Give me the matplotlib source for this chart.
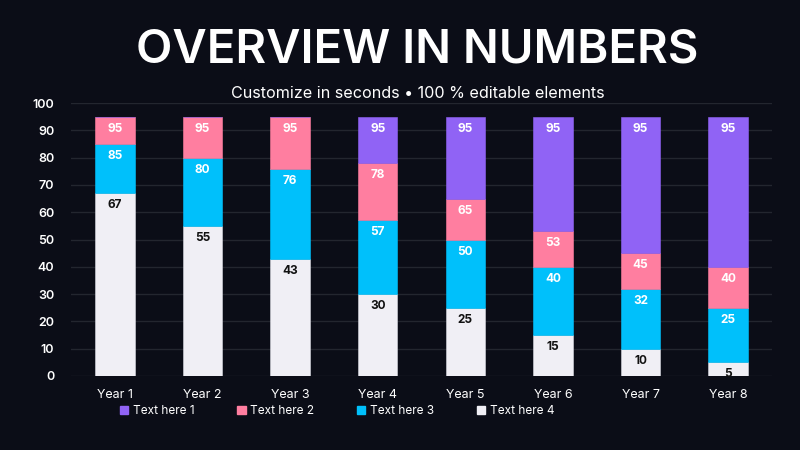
import numpy as np
import matplotlib
matplotlib.use("Agg")
import matplotlib.pyplot as plt
from matplotlib.patches import Patch

years = ["Year 1", "Year 2", "Year 3", "Year 4", "Year 5", "Year 6", "Year 7", "Year 8"]
# cumulative tops as printed on the bars
top_4 = [67, 55, 43, 30, 25, 15, 10, 5]
top_3 = [85, 80, 76, 57, 50, 40, 32, 25]
top_2 = [95, 95, 95, 78, 65, 53, 45, 40]
top_1 = [95, 95, 95, 95, 95, 95, 95, 95]
series_names = ["Text here 1", "Text here 2", "Text here 3", "Text here 4"]

bg = "#0b0d17"
c_purple = "#9063f5"
c_pink = "#ff7ea0"
c_blue = "#00c0fb"
c_white = "#f0eff5"

plt.rcParams['font.family'] = ['Inter', 'DejaVu Sans']

fig = plt.figure(figsize=(8, 4.5), dpi=100, facecolor=bg)
ax = fig.add_axes([71 / 800, 1 - 376 / 450, 701 / 800, 273 / 450])
ax.set_facecolor(bg)

x = np.arange(len(years))
tops = [top_4, top_3, top_2, top_1]
colors = [c_white, c_blue, c_pink, c_purple]
text_colors = ["#111111", "white", "white", "white"]
bottom = np.zeros(len(years))
for top, col, tc in zip(tops, colors, text_colors):
    top = np.array(top, dtype=float)
    h = top - bottom
    ax.bar(x, h, bottom=bottom, width=0.45, color=col, zorder=3,
           edgecolor="#d8d8e0" if col == c_white else col, linewidth=0.4)
    for xi, hi, ti in zip(x, h, top):
        if hi > 0:
            ax.text(xi, ti - 2.2, f"{int(ti)}", ha="center", va="top",
                    color=tc, fontsize=8.5, fontweight="bold", zorder=4)
    bottom = top

ax.set_xlim(-0.5, len(years) - 0.5)
ax.set_ylim(0, 100)
ax.set_yticks(range(0, 101, 10))
ax.set_xticks(x)
ax.set_xticklabels(years)
ax.tick_params(axis="both", length=0, colors="white", labelsize=9)
ax.tick_params(axis="y", pad=12)
ax.tick_params(axis="x", pad=9)
for lab in ax.get_yticklabels():
    lab.set_fontweight("semibold")
ax.grid(axis="y", color="#23262f", linewidth=1, zorder=0)
for s in ax.spines.values():
    s.set_visible(False)

fig.text(0.522, 0.888, "OVERVIEW IN NUMBERS", ha="center", va="center",
         color="white", fontsize=34, fontweight="semibold")
fig.text(0.522, 0.793, "Customize in seconds \u2022 100 % editable elements",
         ha="center", va="center", color="white", fontsize=11.6)

handles = [Patch(color=c) for c in [c_purple, c_pink, c_blue, c_white]]
fig.legend(handles, series_names, loc="center left", bbox_to_anchor=(0.137, 0.086),
           ncol=4, frameon=False, fontsize=8.5, labelcolor="white",
           handlelength=0.7, handleheight=0.7, handletextpad=0.4, columnspacing=3.6)

fig.savefig("out.png", dpi=100, facecolor=bg)
